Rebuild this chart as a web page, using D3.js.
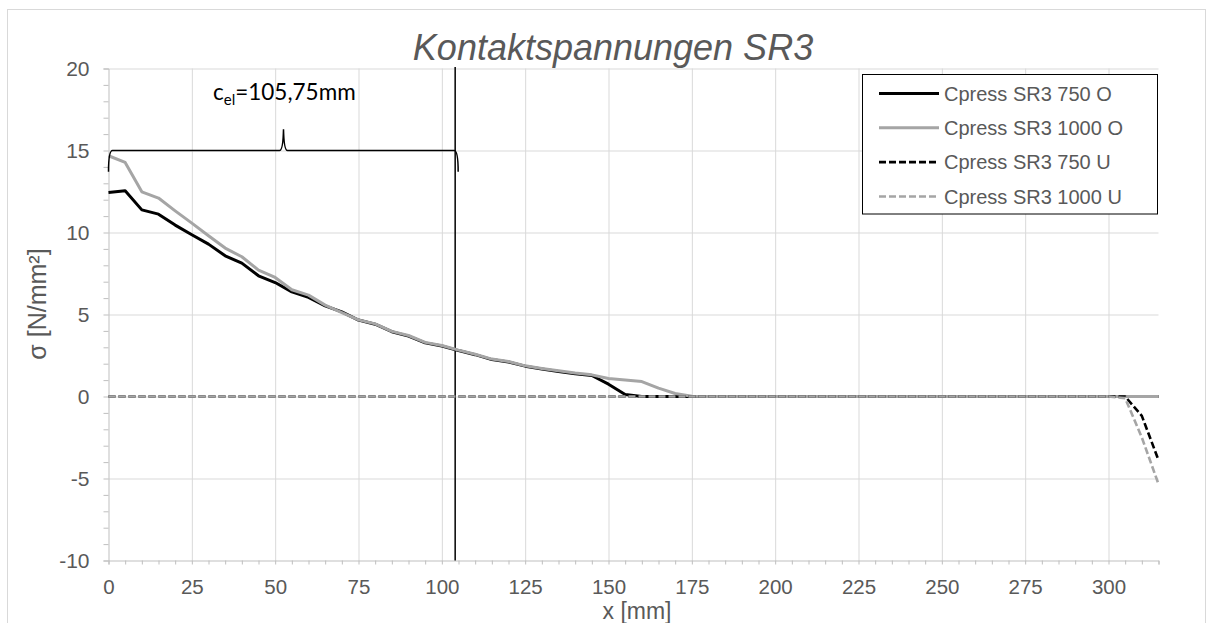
<!DOCTYPE html>
<html>
<head>
<meta charset="utf-8">
<script src="https://cdn.jsdelivr.net/npm/d3@7"></script>
<style>
  html, body { margin: 0; padding: 0; background: #fff; }
  svg { display: block; font-family: "Liberation Sans", Arial, sans-serif; }
</style>
</head>
<body>
<svg id="chart" width="1212" height="623"></svg>
<script>
// ---------- data ----------
const xValues = [0,5,10,15,20,25,30,35,40,45,50,55,60,65,70,75,80,85,90,95,100,105,110,115,120,125,130,135,140,145,150,155,160,165,170,175,180,185,190,195,200,205,210,215,220,225,230,235,240,245,250,255,260,265,270,275,280,285,290,295,300,305,310,315];

const cpress750O = [12.44,12.54,11.38,11.12,10.45,9.86,9.29,8.58,8.13,7.36,6.95,6.38,6.04,5.53,5.16,4.66,4.41,3.95,3.68,3.27,3.08,2.80,2.55,2.25,2.10,1.85,1.68,1.52,1.38,1.28,0.75,0.12,0,0,0,0,0,0,0,0,0,0,0,0,0,0,0,0,0,0,0,0,0,0,0,0,0,0,0,0,0,0,0,0];
const cpress1000O = [14.68,14.27,12.48,12.10,11.32,10.57,9.80,9.05,8.52,7.71,7.26,6.51,6.18,5.57,5.12,4.67,4.43,3.97,3.72,3.30,3.11,2.83,2.58,2.28,2.13,1.87,1.71,1.57,1.43,1.32,1.10,1.00,0.91,0.51,0.18,0.02,0,0,0,0,0,0,0,0,0,0,0,0,0,0,0,0,0,0,0,0,0,0,0,0,0,0,0,0];
const cpress750U = [0,0,0,0,0,0,0,0,0,0,0,0,0,0,0,0,0,0,0,0,0,0,0,0,0,0,0,0,0,0,0,0,0,0,0,0,0,0,0,0,0,0,0,0,0,0,0,0,0,0,0,0,0,0,0,0,0,0,0,0,0,0,-1.18,-3.88];
const cpress1000U = [0,0,0,0,0,0,0,0,0,0,0,0,0,0,0,0,0,0,0,0,0,0,0,0,0,0,0,0,0,0,0,0,0,0,0,0,0,0,0,0,0,0,0,0,0,0,0,0,0,0,0,0,0,0,0,0,0,0,0,0,0,-0.10,-2.50,-5.34];

const seriesNames = ["Cpress SR3 750 O","Cpress SR3 1000 O","Cpress SR3 750 U","Cpress SR3 1000 U"];
const seriesData = [cpress750O, cpress1000O, cpress750U, cpress1000U];

const xTickLabels = [0,25,50,75,100,125,150,175,200,225,250,275,300];
const xMinorTicks = [0,5,10,15,20,25,30,35,40,45,50,55,60,65,70,75,80,85,90,95,100,105,110,115,120,125,130,135,140,145,150,155,160,165,170,175,180,185,190,195,200,205,210,215,220,225,230,235,240,245,250,255,260,265,270,275,280,285,290,295,300,305,310,315];
const yTickLabels = [-10,-5,0,5,10,15,20];
const yMinorTicks = [-10,-9,-8,-7,-6,-5,-4,-3,-2,-1,0,1,2,3,4,5,6,7,8,9,10,11,12,13,14,15,16,17,18,19,20];

const titleText = "Kontaktspannungen SR3";
const xTitle = "x [mm]";
const yTitle = "σ [N/mm²]";
// annotation: elastic contact length
const celLine = 104;
const braceY = 15;
const braceTipY = 16.3;
const braceEndY = 13.7;
const braceMid = 52.5;

// ---------- styles ----------
const seriesColors = ["#000000","#a5a5a5","#000000","#a5a5a5"];
const seriesDash = [null,null,"7,3","7,3"];
const seriesWidth = [3,3,2.6,2.6];
const textGray = "#595959";

// ---------- layout ----------
const svg = d3.select("#chart");
const x = d3.scaleLinear().domain([0,315]).range([108.5,1158.5]);
const y = d3.scaleLinear().domain([-10,20]).range([560.5,68.5]);
const fmt = d => String(d);

// outer border
svg.append("rect").attr("x",7.5).attr("y",9.5).attr("width",1198).attr("height",630)
  .attr("fill","none").attr("stroke","#d9d9d9").attr("stroke-width",1);

// gridlines
const gx = svg.append("g").attr("transform",`translate(0,${y(-10)})`)
  .call(d3.axisBottom(x).tickValues(xTickLabels.filter(v=>v>0)).tickSize(-(y(-10)-y(20))).tickFormat(""));
gx.select(".domain").remove();
gx.selectAll("line").attr("stroke","#d9d9d9").attr("stroke-width",1);

const gy = svg.append("g").attr("transform",`translate(${x(0)},0)`)
  .call(d3.axisLeft(y).tickValues(yTickLabels.filter(v=>v>-10)).tickSize(-(x(315)-x(0))).tickFormat(""));
gy.select(".domain").remove();
gy.selectAll("line").attr("stroke","#d9d9d9").attr("stroke-width",1);

// minor ticks
const mx = svg.append("g").attr("transform",`translate(0,${y(-10)})`)
  .call(d3.axisBottom(x).tickValues(xMinorTicks).tickSize(4).tickFormat(""));
mx.select(".domain").attr("stroke","#bfbfbf");
mx.selectAll("line").attr("stroke","#bfbfbf");

const my = svg.append("g").attr("transform",`translate(${x(0)},0)`)
  .call(d3.axisLeft(y).tickValues(yMinorTicks).tickSize(5).tickFormat(""));
my.select(".domain").attr("stroke","#bfbfbf");
my.selectAll("line").attr("stroke","#bfbfbf");

// tick labels
const lx = svg.append("g").attr("transform",`translate(0,${y(-10)})`)
  .call(d3.axisBottom(x).tickValues(xTickLabels).tickSize(0).tickPadding(18.5).tickFormat(fmt));
lx.select(".domain").remove();
lx.selectAll("text").attr("fill",textGray).style("font-size","20.5px").style("font-family","'Liberation Sans', Arial, sans-serif");

const ly = svg.append("g").attr("transform",`translate(${x(0)},0)`)
  .call(d3.axisLeft(y).tickValues(yTickLabels).tickSize(0).tickPadding(19).tickFormat(fmt));
ly.select(".domain").remove();
ly.selectAll("text").attr("fill",textGray).style("font-size","21px").style("font-family","'Liberation Sans', Arial, sans-serif");

// annotation vertical line
svg.append("line").attr("x1",x(celLine)).attr("x2",x(celLine))
  .attr("y1",y(20)-1.5).attr("y2",y(-10)).attr("stroke","#000").attr("stroke-width",1.5);

// series lines
const line = d3.line().x((d,i)=>x(xValues[i])).y(d=>y(d));
seriesData.forEach((s,k)=>{
  svg.append("path").datum(s).attr("d",line)
    .attr("fill","none").attr("stroke",seriesColors[k]).attr("stroke-width",seriesWidth[k])
    .attr("stroke-dasharray",seriesDash[k]).attr("stroke-linejoin","round");
});

// brace
const x0 = x(0), x1 = x(celLine)+3, xm = x(braceMid);
const yb = y(braceY), yt = y(braceTipY), ye = y(braceEndY);
const bracePath = d3.path();
bracePath.moveTo(x0, ye);
bracePath.quadraticCurveTo(x0, yb, x0+4, yb);
bracePath.lineTo(xm-4, yb);
bracePath.quadraticCurveTo(xm-0.5, yb, xm, yt);
bracePath.quadraticCurveTo(xm+0.5, yb, xm+4, yb);
bracePath.lineTo(x1-4, yb);
bracePath.quadraticCurveTo(x1, yb, x1, ye);
svg.append("path").attr("d",bracePath.toString()).attr("fill","none")
  .attr("stroke","#000").attr("stroke-width",1.5);

// annotation label
const lbl = svg.append("text").attr("x",213).attr("y",100)
  .style("font-family","Lato, 'Open Sans', sans-serif").style("font-size","22.5px").attr("fill","#000");
lbl.append("tspan").text("c");
lbl.append("tspan").attr("dy",5).style("font-size","15px").text("el");
lbl.append("tspan").attr("dy",-5).text("=105,75mm");

// title
svg.append("text").attr("x",613).attr("y",60).attr("text-anchor","middle")
  .style("font-size","36px").style("font-style","italic").attr("fill",textGray).text(titleText);

// axis titles
svg.append("text").attr("x",637).attr("y",618.5).attr("text-anchor","middle")
  .style("font-size","23px").attr("fill",textGray).text(xTitle);
svg.append("text").attr("transform","translate(46,304) rotate(-90)").attr("text-anchor","middle")
  .style("font-size","25px").attr("fill",textGray).text(yTitle);

// legend
const leg = svg.append("g");
leg.append("rect").attr("x",862.5).attr("y",74.5).attr("width",295).attr("height",139.5)
  .attr("fill","#fff").attr("stroke","#000").attr("stroke-width",1);
const rowY = d3.scalePoint().domain(seriesNames).range([93.5,196.5]);
seriesNames.forEach((n,k)=>{
  leg.append("line").attr("x1",879).attr("x2",939).attr("y1",rowY(n)).attr("y2",rowY(n))
    .attr("stroke",seriesColors[k]).attr("stroke-width",seriesWidth[k]).attr("stroke-dasharray",seriesDash[k]);
  leg.append("text").attr("x",944).attr("y",rowY(n)).attr("dy","0.35em")
    .style("font-size","20px").attr("fill",textGray).text(n);
});
</script>
</body>
</html>
